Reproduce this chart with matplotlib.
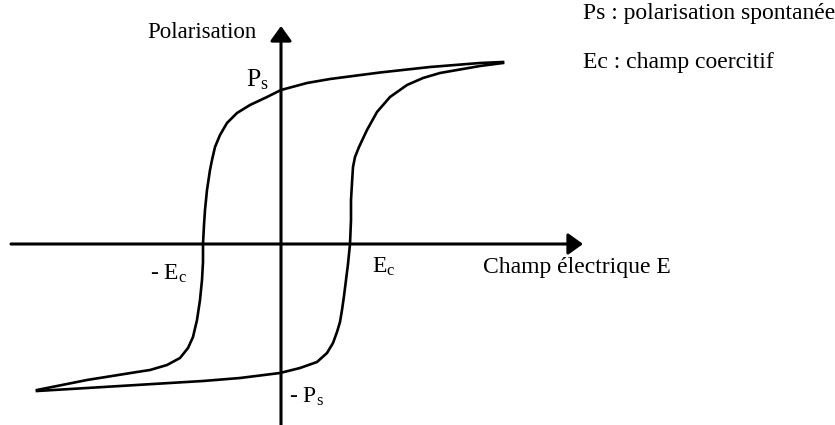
import matplotlib
matplotlib.use("Agg")
import matplotlib.pyplot as plt

plt.rcParams["font.family"] = ["Liberation Serif", "DejaVu Serif"]
plt.rcParams["mathtext.fontset"] = "custom"
plt.rcParams["mathtext.rm"] = "Liberation Serif"
plt.rcParams["mathtext.it"] = "Liberation Serif:italic"

# hysteresis loop (E to the right, P upwards, origin at the axes crossing)
upper_e = [222, 199, 149, 99, 49, 26, 0, -14, -31, -44, -54, -61, -66, -69, -71, -74,
           -76, -77, -78, -78, -79, -81, -84, -88, -93, -101, -114, -131, -144, -194, -244]
upper_p = [182, 181, 177, 171.5, 165, 161, 154, 147, 139, 131, 121, 109, 97, 84, 74, 54,
           34, 19, 0, -18, -36, -56, -76, -93, -104, -114, -121, -126, -128, -136, -146]

lower_e = [-244, -194, -128, -78, -41, -1, 19, 36, 46, 52, 56, 59, 61, 63, 65, 67,
           69, 70, 70, 71, 72, 74, 78, 86, 96, 109, 126, 142, 159, 199, 222]
lower_p = [-147, -144, -140, -137, -134, -129, -124, -118, -109, -99, -88, -78, -66, -52, -36, -20,
           0, 24, 44, 61, 77, 87, 97, 114, 132, 147, 159, 166, 171, 178, 181]

legend_lines = ["Ps : polarisation spontanée", "Ec : champ coercitif"]

fig = plt.figure(figsize=(8.35, 4.25), dpi=100)
ax = fig.add_axes([0, 0, 1, 1])
ax.set_xlim(-281, 554)
ax.set_ylim(-181, 244)
ax.axis("off")

# axes with arrows
arrow = dict(arrowstyle="-|>,head_length=9,head_width=6.5", mutation_scale=1,
             lw=2.2, color="black", shrinkA=0, shrinkB=0)
ax.annotate("", xy=(302, 0), xytext=(-270, 0), arrowprops=arrow)
ax.annotate("", xy=(0, 218), xytext=(0, -181), arrowprops=arrow)

ax.plot(upper_e, upper_p, color="black", lw=1.9, solid_joinstyle="round")
ax.plot(lower_e, lower_p, color="black", lw=1.9, solid_joinstyle="round")

fs = 17
ax.text(-24, 212, "Polarisation", fontsize=16.5, ha="right", va="center")
ax.text(202, -24, "Champ électrique E", fontsize=fs, ha="left", va="center")
ax.text(-12, 158, r"P$_\mathrm{s}$", fontsize=18.5, ha="right", va="baseline")
ax.text(8, -159, r"- P$_\mathrm{s}$", fontsize=fs, ha="left", va="baseline")
ax.text(-94, -36, r"- E$_\mathrm{c}$", fontsize=fs, ha="right", va="baseline")
ax.text(91, -29, r"E$_\mathrm{c}$", fontsize=fs, ha="left", va="baseline")

for i, line in enumerate(legend_lines):
    ax.text(302, 231 - 49 * i, line, fontsize=fs, ha="left", va="center")

fig.savefig("out.png", dpi=100)
